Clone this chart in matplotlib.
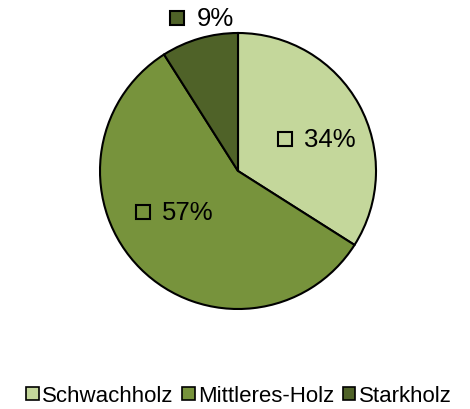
import matplotlib
matplotlib.use("Agg")
import matplotlib.pyplot as plt
from matplotlib.patches import Patch
import numpy as np

categories = ["Schwachholz", "Mittleres-Holz", "Starkholz"]
values = [34, 57, 9]
colors = ["#C4D79B", "#77933C", "#4F6228"]
# label anchor positions (in pie radius units) for the square marker
label_pos = [(0.34, 0.23), (-0.69, -0.30), (-0.44, 1.11)]

plt.rcParams['font.family'] = ['Liberation Sans', 'DejaVu Sans']

fig = plt.figure(figsize=(4.7, 4.1), dpi=100)
W, H = 470, 410
cx, cy, r = 238, 172, 138
ax = fig.add_axes([(cx - r) / W, (H - cy - r) / H, 2 * r / W, 2 * r / H])
wedges, _ = ax.pie(values, colors=colors, startangle=90, counterclock=False,
                   radius=1, wedgeprops=dict(edgecolor='black', linewidth=1.5))
ax.set_xlim(-1, 1)
ax.set_ylim(-1, 1)
ax.set_aspect('equal')
ax.axis('off')

for v, c, (x, y) in zip(values, colors, label_pos):
    ax.plot([x], [y], marker='s', markersize=9.5, markerfacecolor=c,
            markeredgecolor='black', markeredgewidth=1.5, clip_on=False)
    ax.annotate(f"{v}%", (x, y), xytext=(14, 0), textcoords='offset points',
                ha='left', va='center', fontsize=18.5, color='black',
                annotation_clip=False)

handles = [Patch(facecolor=c, edgecolor='black', linewidth=1.2) for c in colors]
fig.legend(handles, categories, loc='center', bbox_to_anchor=(239 / W, 1 - 397 / H),
           ncol=3, frameon=False, fontsize=16, handlelength=0.55, handleheight=0.55,
           handletextpad=0.15, columnspacing=0.4, borderpad=0)

fig.savefig("out.png", dpi=100)
